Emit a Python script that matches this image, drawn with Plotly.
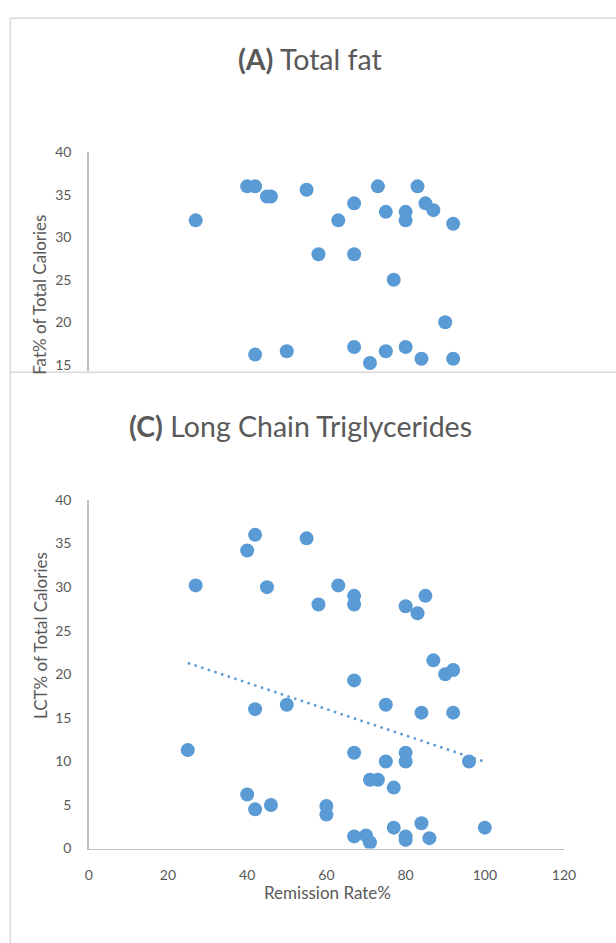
import plotly.graph_objects as go

W, H = 616, 943

# ---- Data: Panel A (Total fat) ----
fat_x = [27, 40, 42, 45, 46, 55, 58, 63, 67, 67, 73, 75, 80, 80, 83, 85, 87, 92,
         77, 90, 42, 50, 67, 75, 80, 84, 92, 71]
fat_y = [32, 36, 36, 34.8, 34.8, 35.6, 28, 32, 34, 28, 36, 33, 33, 32, 36, 34, 33.2, 31.6,
         25, 20, 16.2, 16.6, 17.1, 16.6, 17.1, 15.7, 15.7, 15.2]

# ---- Data: Panel C (Long Chain Triglycerides) ----
lct_x = [42, 40, 55, 27, 45, 42, 50, 25, 40, 42, 46,
         63, 67, 58, 67, 85, 80, 83, 87, 90, 92, 67, 75, 84, 92,
         67, 80, 80, 75, 96, 71, 73, 77, 60, 60, 67, 70, 71, 77, 80, 80, 84, 86, 100]
lct_y = [36, 34.2, 35.6, 30.2, 30, 16, 16.5, 11.3, 6.2, 4.5, 5,
         30.2, 29, 28, 28, 29, 27.8, 27, 21.6, 20, 20.5, 19.3, 16.5, 15.6, 15.6,
         11, 11, 10, 10, 10, 7.9, 7.9, 7, 4.9, 3.9, 1.4, 1.5, 0.7, 2.4, 1.4, 1.0, 2.9, 1.2, 2.4]

# Linear trendline end points
trend_x = [25, 100]
trend_y = [21.3, 9.95]

x_ticks = [0, 20, 40, 60, 80, 100, 120]
y_ticks = [0, 5, 10, 15, 20, 25, 30, 35, 40]
fat_ticks = [15, 20, 25, 30, 35, 40]

BLUE = "#5B9BD5"
TXT = "#595959"
AXC = "#BFBFBF"
BORDER = "#D9D9D9"
FONT = "Lato"


def pxx(x):
    return x / W


def pxy(y):
    return 1 - y / H


fig = go.Figure()

fig.add_trace(go.Scatter(x=fat_x, y=fat_y, mode="markers", xaxis="x", yaxis="y",
                         marker=dict(color=BLUE, size=14, line=dict(width=0)),
                         showlegend=False))
fig.add_trace(go.Scatter(x=lct_x, y=lct_y, mode="markers", xaxis="x2", yaxis="y2",
                         marker=dict(color=BLUE, size=14, line=dict(width=0)),
                         showlegend=False))
fig.add_trace(go.Scatter(x=trend_x, y=trend_y, mode="lines", xaxis="x2", yaxis="y2",
                         line=dict(color=BLUE, width=2.5, dash="2.5px,4.5px"),
                         showlegend=False))

# Panel A plot area: px x 87..575, y 146..369
a_top, a_bot = 146, 369
a_scale = (362.3 - 146) / 25.0
a_ymin = 40 - (a_bot - a_top) / a_scale

tickfont = dict(family=FONT, size=14, color=TXT)

fig.update_layout(
    width=W, height=H,
    margin=dict(l=0, r=0, t=0, b=0),
    paper_bgcolor="white", plot_bgcolor="white",
    font=dict(family=FONT, color=TXT),
    hovermode=False,
    xaxis=dict(domain=[pxx(87), pxx(575)], range=[0, 120], anchor="y",
               showgrid=False, zeroline=False, showline=False, showticklabels=False,
               fixedrange=True),
    yaxis=dict(domain=[pxy(a_bot), pxy(a_top)], range=[a_ymin, 40], anchor="x",
               tickvals=fat_ticks, showgrid=False, zeroline=False,
               showline=True, linecolor=AXC, linewidth=1.5, ticks="",
               ticklabelstandoff=13, tickfont=tickfont, fixedrange=True),
    xaxis2=dict(domain=[pxx(87), pxx(575)], range=[0, 120], anchor="y2",
                tickvals=x_ticks, showgrid=False, zeroline=False,
                showline=True, linecolor=AXC, linewidth=1.5, ticks="",
                ticklabelstandoff=13, tickfont=tickfont, fixedrange=True),
    yaxis2=dict(domain=[pxy(855), pxy(500)], range=[0, 40], anchor="x2",
                tickvals=y_ticks, showgrid=False, zeroline=False,
                showline=True, linecolor=AXC, linewidth=1.5, ticks="",
                ticklabelstandoff=13, tickfont=tickfont, fixedrange=True),
)

shapes = [
    # Panel A border (top + left)
    dict(type="line", xref="paper", yref="paper", x0=pxx(6), x1=1.05, y0=pxy(9.5), y1=pxy(9.5),
         line=dict(color=BORDER, width=1.5), layer="below"),
    dict(type="line", xref="paper", yref="paper", x0=pxx(6.5), x1=pxx(6.5), y0=pxy(9), y1=-0.05,
         line=dict(color=BORDER, width=1.5), layer="below"),
    # Panel C border (top)
    dict(type="line", xref="paper", yref="paper", x0=pxx(6), x1=1.05, y0=pxy(370), y1=pxy(370),
         line=dict(color=BORDER, width=1.5), layer="below"),
]
fig.update_layout(shapes=shapes)

annotations = [
    dict(text="<b>(A)</b> Total fat", x=pxx(314), y=pxy(51), xref="paper", yref="paper",
         xanchor="center", yanchor="middle", showarrow=False,
         font=dict(family=FONT, size=28.5, color=TXT)),
    dict(text="<b>(C)</b> Long Chain Triglycerides", x=pxx(304), y=pxy(425), xref="paper", yref="paper",
         xanchor="center", yanchor="middle", showarrow=False,
         font=dict(family=FONT, size=28.5, color=TXT)),
    dict(text="Fat% of Total Calories", x=pxx(37), y=pxy(291), xref="paper", yref="paper",
         xanchor="center", yanchor="middle", textangle=-90, showarrow=False,
         font=dict(family=FONT, size=17, color=TXT)),
    dict(text="LCT% of Total Calories", x=pxx(37.5), y=pxy(638), xref="paper", yref="paper",
         xanchor="center", yanchor="middle", textangle=-90, showarrow=False,
         font=dict(family=FONT, size=17, color=TXT)),
    dict(text="Remission Rate%", x=pxx(332), y=pxy(900), xref="paper", yref="paper",
         xanchor="center", yanchor="middle", showarrow=False,
         font=dict(family=FONT, size=17, color=TXT)),
]
fig.update_layout(annotations=annotations)

fig.write_html("out.html",
               config={"displayModeBar": False, "staticPlot": True},
               post_script="document.body.style.margin='0';document.body.style.overflow='hidden';")
